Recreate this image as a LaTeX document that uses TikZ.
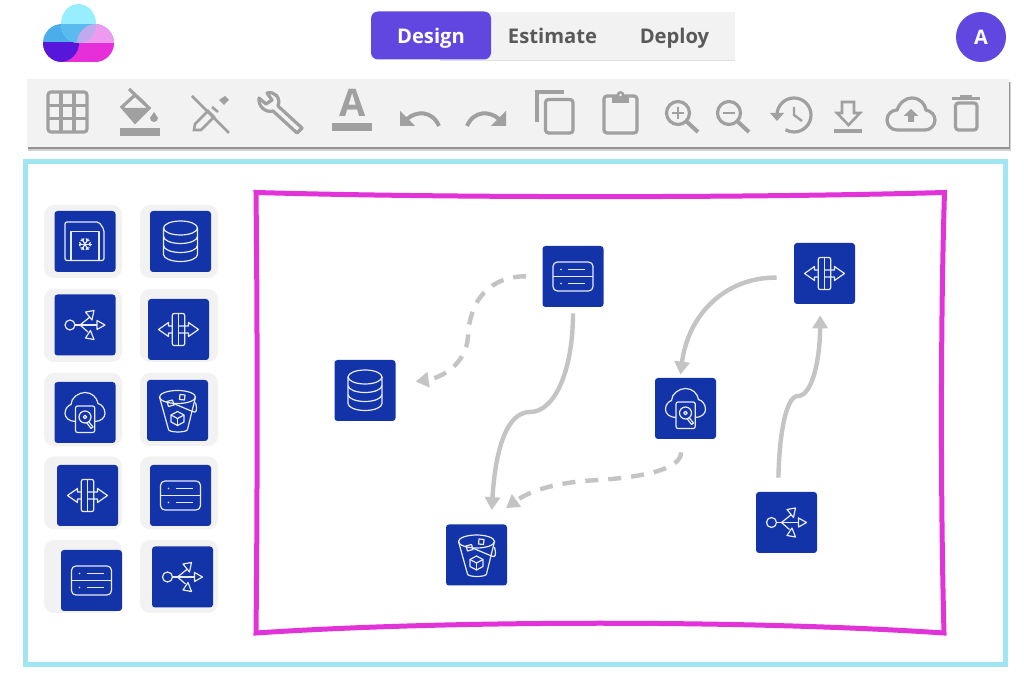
\documentclass[tikz,border=0pt]{standalone}
\usepackage{fontspec}
\setmainfont{Open Sans}
\usetikzlibrary{arrows.meta, shapes.geometric}

\definecolor{boxblue}{HTML}{1334A8}
\definecolor{glyphline}{HTML}{E8ECF8}
\definecolor{tilegray}{HTML}{F2F2F2}
\definecolor{flowgray}{HTML}{C4C4C4}
\definecolor{toolgray}{HTML}{A0A0A0}
\definecolor{tabviolet}{HTML}{6147DF}
\definecolor{framecyan}{HTML}{9FE6F2}
\definecolor{framepink}{HTML}{E233D8}
\definecolor{logoblue}{HTML}{4BAEEA}
\definecolor{logopink}{HTML}{EE9BEF}
\definecolor{logomagenta}{HTML}{E62FD8}
\definecolor{logodark}{HTML}{5617DB}
\definecolor{logocyan}{HTML}{97EFFE}
\definecolor{logomidblue}{HTML}{5ABBEE}
\definecolor{logoleaf}{HTML}{C0A9EE}

\tikzset{
  tile/.style={rectangle, fill=tilegray, rounded corners=5pt, minimum width=39pt, minimum height=36.5pt, inner sep=0pt},
  glyphbox/.style={rectangle, fill=boxblue, rounded corners=1.5pt, minimum width=30.5pt, minimum height=30.5pt, inner sep=0pt},
  glyph/.style={draw=glyphline, line width=0.6pt, line join=round},
  flow/.style={draw=flowgray, line width=2.2pt, -{Triangle[length=6.5pt,width=7.5pt]}},
  flowdash/.style={flow, dash pattern=on 6.5pt off 5pt},
  toolline/.style={draw=toolgray, line width=1.6pt},
  tabtext/.style={font=\bfseries\fontsize{10.1}{12}\selectfont, text=black!65, anchor=base},
  % Glifi delle icone
  pics/dbglyph/.style={code={
    \draw[glyph] (0,-13.5) ellipse[x radius=17, y radius=7];
    \draw[glyph] (-17,-13.5) -- (-17,13) arc[start angle=180, end angle=0, x radius=17, y radius=7] -- (17,-13.5);
    \draw[glyph] (-17,-5) arc[start angle=180, end angle=0, x radius=17, y radius=7];
    \draw[glyph] (-17,4) arc[start angle=180, end angle=0, x radius=17, y radius=7];
  }},
  pics/serverglyph/.style={code={
    \draw[glyph, rounded corners=2.2pt] (-20,-14.5) rectangle (20,14.5);
    \draw[glyph] (-20,0) -- (20,0);
    \draw[glyph] (-5,-7) -- (12,-7);
    \draw[glyph] (-5,7) -- (12,7);
    \fill[glyphline] (-12,-7) circle (0.9);
    \fill[glyphline] (-12,7) circle (0.9);
  }},
  pics/usbglyph/.style={code={
    \draw[glyph] (-15,0) circle (5);
    \draw[glyph] (-10,0) -- (12,0);
    \draw[glyph] (-5,0) -- (5,-8);
    \draw[glyph] (-5,0) -- (3,7);
    \draw[glyph] (12,-4.5) -- (20,0) -- (12,4.5) -- cycle;
    \draw[glyph] (0.5,-13) -- (9,-14.5) -- (7,-5) -- cycle;
    \draw[glyph] (0.5,13) -- (9,14.5) -- (5.5,5.5) -- cycle;
  }},
  pics/routerglyph/.style={code={
    \draw[glyph, rounded corners=1pt] (-6.3,-16) rectangle (6.3,16);
    \draw[glyph] (0,-16) -- (0,16);
    \draw[glyph] (-6.3,-3.5) -- (-10,-3.5) -- (-10,-7) -- (-20,0) -- (-10,7) -- (-10,3.5) -- (-6.3,3.5);
    \draw[glyph] (0,-3.5) -- (10,-3.5) -- (10,-7) -- (20,0) -- (10,7) -- (10,3.5) -- (0,3.5);
  }},
  pics/cloudglyph/.style={code={
    \draw[glyph] (-9.5,9) .. controls (-16,9) and (-20,5) .. (-20,1) .. controls (-20,-4) and (-17,-7) .. (-14,-8) .. controls (-14,-15) and (-6,-20) .. (0,-20) .. controls (7,-20) and (12,-15) .. (13,-9) .. controls (17,-8) and (20,-4) .. (20,1) .. controls (20,5) and (16,9) .. (9.7,9);
    \draw[glyph, rounded corners=1pt] (-9.5,-6.5) rectangle (9.7,20);
    \draw[glyph] (0,4.5) circle (6);
    \draw[glyph] (0,4.5) circle (1.8);
    \draw[glyph] (1.5,10) -- (6,16) -- (8,14.5) -- (3.5,9);
  }},
  pics/bucketglyph/.style={code={
    \draw[glyph] (0,-13.5) ellipse[x radius=18, y radius=6.5];
    \draw[glyph] (-18,-13.5) -- (-9,19) arc[start angle=180, end angle=0, x radius=9.5, y radius=2.5] -- (18,-13.5);
    \draw[glyph] (0,1) -- (6.5,4.5) -- (6.5,11.5) -- (0,15) -- (-6.5,11.5) -- (-6.5,4.5) -- cycle;
    \draw[glyph] (-6.5,4.5) -- (0,8) -- (6.5,4.5);
    \draw[glyph] (0,8) -- (0,15);
    \draw[glyph] (2.5,-16) -- (7.5,-15.5) -- (7,-10.5) -- (2,-11) -- cycle;
    \draw[glyph] (-10.5,-9) -- (-5,-10.5) -- (-3.5,-5.5) -- (-9,-4) -- cycle;
    \draw[glyph] (-4,-7) -- (15,1) .. controls (19,3) and (20,0) .. (18,-8);
  }},
  pics/cardglyph/.style={code={
    \draw[glyph, rounded corners=1pt] (-20,19) -- (-20,-19.5) -- (14,-19.5) -- (19,-12) -- (19,19) -- cycle;
    \draw[glyph] (-14,19) -- (-14,-10) -- (14,-10) -- (14,19);
    \foreach \a in {0,60,...,300} {
      \draw[glyph, shift={(0,2.7)}] (0,0) -- (\a:6.5);
      \draw[glyph, shift={(0,2.7)}] (\a:4) -- ++(\a+50:2.5);
      \draw[glyph, shift={(0,2.7)}] (\a:4) -- ++(\a-50:2.5);
    }
  }},
}

\begin{document}
\begin{tikzpicture}[x=0.5pt, y=-0.5pt]
  \useasboundingbox (0,0) rectangle (1024,673);
  \fill[white] (0,0) rectangle (1024,673);

  % Logo
  \begin{scope}
    \clip (62,24) -- (95,24) arc[start angle=270, end angle=450, radius=19] -- (62,62) arc[start angle=90, end angle=270, radius=19] -- cycle;
    \fill[logoblue] (43,24) rectangle (114,43);
    \fill[logopink] (95,43) circle (19);
    \fill[logomagenta] (43,43) rectangle (114,62);
    \begin{scope}
      \clip (43,43) rectangle (114,62);
      \fill[logodark] (60,43) circle (19);
    \end{scope}
  \end{scope}
  \begin{scope}
    \clip (0,0) rectangle (114,43);
    \fill[logocyan] (78.5,23.5) ellipse[x radius=17.5, y radius=19.5];
    \begin{scope}
      \clip (78.5,23.5) ellipse[x radius=17.5, y radius=19.5];
      \fill[logomidblue] (43,24) rectangle (114,43);
      \fill[logoleaf] (96,43) circle (19);
    \end{scope}
  \end{scope}

  % Schede
  \fill[tilegray] (440,12) rectangle (735,60);
  \draw[black!12, line width=0.4pt] (440,60.5) -- (735,60.5);
  \node[rectangle, fill=tabviolet, rounded corners=3.5pt, minimum width=60pt, minimum height=24pt, text height=8pt, text depth=0pt, font=\bfseries\fontsize{10.1}{12}\selectfont, text=white] (design) at (431,35.5) {Design};
  \node[tabtext] (estimate) at (552.5,44) {Estimate};
  \node[tabtext] (deploy) at (674.5,44) {Deploy};
  \node[circle, fill=tabviolet, minimum size=25pt, inner sep=0pt, font=\bfseries\fontsize{10}{12}\selectfont, text=white] (avatar) at (981,37) {A};

  % Barra strumenti
  \fill[black!18] (28,82) rectangle (1011,151);
  \fill[black!42] (28,82) rectangle (1010,149.5);
  \fill[tilegray] (26.5,79.5) rectangle (1008.5,147.5);
  % griglia
  \draw[toolline, rounded corners=1.5pt] (48,92) rectangle (87,132);
  \foreach \g in {61,74} \draw[toolline] (\g,92) -- (\g,132);
  \foreach \g in {105.3,118.7} \draw[toolline] (48,\g) -- (87,\g);
  % riempimento
  \draw[toolline] (129,89) -- (145,104);
  \draw[toolline] (122,107) -- (135,95) -- (149,108) -- (135,122) -- cycle;
  \fill[toolgray] (122,108) -- (149,108) -- (135,122) -- cycle;
  \fill[toolgray] (154,112) -- (158,118) arc[start angle=0, end angle=180, radius=4] -- cycle;
  \fill[toolgray] (119.5,128) rectangle (160,136);
  % matita e righello
  \draw[toolline, line width=1.3pt] (192,96) -- (229,133);
  \draw[toolline, line width=1.3pt] (194,130) -- (195,124) -- (208,111) -- (214,117) -- (201,130) -- cycle;
  \fill[toolgray] (219,100) -- (225,96) -- (229,100) -- (224,105) -- cycle;
  \draw[toolline, line width=1.3pt] (212,107) -- (218,112);
  % chiave
  \draw[toolline, line join=round] (273,111) .. controls (265,113) and (258,106) .. (259,98) -- (266,104) -- (272,100) -- (267,93) .. controls (275,91) and (281,98) .. (278,106) -- (302,128) -- (297,133) -- cycle;
  % testo
  \node[font=\bfseries\fontsize{19}{20}\selectfont, text=toolgray, inner sep=0pt] (letter) at (352.5,103) {A};
  \fill[toolgray] (332,123) rectangle (372,131);
  % annulla e ripeti
  \draw[toolline, line width=2pt] (407,119) .. controls (416,111) and (432,110) .. (439,126);
  \fill[toolgray] (400,111) -- (400,126) -- (415,126) -- cycle;
  \draw[toolline, line width=2pt] (499,119) .. controls (490,111) and (474,110) .. (467,126);
  \fill[toolgray] (506,111) -- (506,126) -- (491,126) -- cycle;
  % copia e incolla
  \draw[toolline] (537,122) -- (537,92) -- (564,92);
  \draw[toolline, rounded corners=1.5pt] (545.5,99.5) rectangle (573,133);
  \draw[toolline, rounded corners=1.5pt] (604,96) rectangle (637,133);
  \fill[toolgray] (612,96) rectangle (629,103);
  \fill[toolgray] (620.5,95) circle (4);
  \fill[tilegray] (620.5,95) circle (1.3);
  % lenti
  \draw[toolline] (678,113) circle (11.5);
  \draw[toolline, line width=2pt] (686,121) -- (698,132);
  \draw[toolline, line width=0.7pt] (672,113) -- (684,113) (678,107) -- (678,119);
  \draw[toolline] (729,113) circle (11.5);
  \draw[toolline, line width=2pt] (737,121) -- (749,132);
  \draw[toolline, line width=0.7pt] (723,113) -- (735,113);
  % cronologia
  \draw[toolline] (777,115) arc[start angle=180, end angle=480, radius=17];
  \fill[toolgray] (770,113) -- (784,113) -- (777,121) -- cycle;
  \draw[toolline, line width=1.2pt] (794,107) -- (794,115) -- (802,121);
  % scarica
  \draw[toolline, line width=1.3pt, line join=miter] (842,102) -- (854,102) -- (854,113) -- (860,113) -- (848.5,125) -- (837,113) -- (842,113) -- cycle;
  \fill[toolgray] (834,129) rectangle (862,133);
  % nuvola
  \draw[toolline] (897,130) .. controls (891,130) and (887,125) .. (887,120) .. controls (887,114) and (892,110) .. (897,110) .. controls (900,102) and (906,98) .. (912,98) .. controls (920,98) and (925,104) .. (926,110) .. controls (931,111) and (935,115) .. (935,120) .. controls (935,126) and (930,130) .. (925,130) -- cycle;
  \fill[toolgray] (903.5,116) -- (911,109) -- (918.5,116) -- (914,116) -- (914,122) -- (908,122) -- (908,116) -- cycle;
  % cestino
  \draw[toolline] (952,98.5) -- (980,98.5);
  \draw[toolline] (960,96.5) -- (972,96.5);
  \draw[toolline, rounded corners=1.5pt] (955.5,103) rectangle (977,130);

  % Cornici
  \draw[framecyan, line width=2.5pt] (25,161.5) rectangle (1005,665);
  \draw[framepink, line width=2.5pt] (256,192.5) .. controls (450,198) and (750,198) .. (944.5,192.5) .. controls (940.5,320) and (940.5,500) .. (944,633) .. controls (750,620) and (450,620) .. (256,633) .. controls (257.5,500) and (257.5,320) .. (256,192.5) -- cycle;

  % Tavolozza
  \node[tile] (tileA) at (83,241.5) {};
  \node[tile] (tileB) at (179,241.5) {};
  \node[tile] (tileC) at (83,325.5) {};
  \node[tile] (tileD) at (179,325.5) {};
  \node[tile] (tileE) at (83,409.5) {};
  \node[tile] (tileF) at (179,409.5) {};
  \node[tile] (tileG) at (83,493) {};
  \node[tile] (tileH) at (179,493) {};
  \node[tile] (tileI) at (83,576.5) {};
  \node[tile] (tileJ) at (179,576.5) {};

  \node[glyphbox] (palA) at (85,241.5) {};
  \pic at (palA) {cardglyph};
  \node[glyphbox] (palB) at (180.5,241.5) {};
  \pic at (palB) {dbglyph};
  \node[glyphbox] (palC) at (85,325) {};
  \pic at (palC) {usbglyph};
  \node[glyphbox] (palD) at (178.5,329.5) {};
  \pic at (palD) {routerglyph};
  \node[glyphbox] (palE) at (85,412.5) {};
  \pic at (palE) {cloudglyph};
  \node[glyphbox] (palF) at (177.5,410.5) {};
  \pic at (palF) {bucketglyph};
  \node[glyphbox] (palG) at (87.5,495.5) {};
  \pic at (palG) {routerglyph};
  \node[glyphbox] (palH) at (180.5,495.5) {};
  \pic at (palH) {serverglyph};
  \node[glyphbox] (palI) at (91.5,580.5) {};
  \pic at (palI) {serverglyph};
  \node[glyphbox] (palJ) at (182.5,577) {};
  \pic at (palJ) {usbglyph};

  % Nodi del disegno
  \node[glyphbox] (server) at (573,276.5) {};
  \pic at (server) {serverglyph};
  \node[glyphbox] (database) at (365,390.5) {};
  \pic at (database) {dbglyph};
  \node[glyphbox] (bucket) at (476.5,555) {};
  \pic at (bucket) {bucketglyph};
  \node[glyphbox] (router) at (824.5,273.5) {};
  \pic at (router) {routerglyph};
  \node[glyphbox] (cloud) at (685.5,408.5) {};
  \pic at (cloud) {cloudglyph};
  \node[glyphbox] (usb) at (786.5,522.5) {};
  \pic at (usb) {usbglyph};

  % Connessioni
  \draw[flowdash, shorten <=8pt, shorten >=10pt] (server.west) .. controls (500,276) and (470,290) .. (468,337) .. controls (466,365) and (440,378) .. (database.11);
  \draw[flow, shorten <=3pt, shorten >=7pt] (server.south) .. controls (573,370) and (555,412) .. (530,412) .. controls (505,412) and (495,455) .. (bucket.65);
  \draw[flowdash, shorten <=6.5pt, shorten >=13.5pt] (cloud.-98) .. controls (681,470) and (640,477) .. (600,480) .. controls (570,481) and (535,487) .. (bucket.76);
  \draw[flow, shorten <=8.5pt, shorten >=1.5pt] (router.188) .. controls (725,277) and (688,315) .. (cloud.100);
  \draw[flow, shorten <=7pt, shorten >=5.5pt] (usb.105) .. controls (779,440) and (785,396) .. (798,396) .. controls (812,396) and (820,360) .. (router.-98);
\end{tikzpicture}
\end{document}
